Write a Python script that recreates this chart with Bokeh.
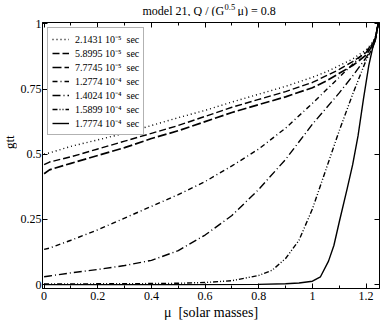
import math
from bokeh.plotting import figure
from bokeh.layouts import column, row
from bokeh.models import Range1d, FixedTicker, LinearAxis, CustomJSTickFormatter, Label
from bokeh.embed import file_html
from bokeh.resources import INLINE

# ---- data ----
mu_a = [0.0, 0.02, 0.1, 0.2, 0.3, 0.4, 0.5, 0.6, 0.7, 0.8, 0.9, 1.0, 1.05, 1.1, 1.15, 1.2, 1.225, 1.235, 1.245]
gtt_1 = [0.50, 0.505, 0.53, 0.555, 0.58, 0.61, 0.64, 0.668, 0.70, 0.73, 0.76, 0.795, 0.815, 0.84, 0.865, 0.90, 0.93, 0.95, 1.0]
gtt_2 = [0.46, 0.47, 0.49, 0.52, 0.55, 0.58, 0.61, 0.645, 0.68, 0.71, 0.74, 0.775, 0.80, 0.825, 0.855, 0.89, 0.925, 0.95, 1.0]
gtt_3 = [0.425, 0.44, 0.465, 0.495, 0.525, 0.56, 0.59, 0.625, 0.66, 0.69, 0.72, 0.755, 0.78, 0.81, 0.84, 0.88, 0.92, 0.945, 1.0]
gtt_4 = [0.135, 0.14, 0.17, 0.21, 0.255, 0.30, 0.345, 0.395, 0.455, 0.52, 0.60, 0.695, 0.745, 0.795, 0.845, 0.895, 0.925, 0.945, 1.0]
gtt_5 = [0.03, 0.033, 0.045, 0.058, 0.073, 0.093, 0.13, 0.19, 0.265, 0.365, 0.48, 0.615, 0.675, 0.735, 0.80, 0.87, 0.91, 0.94, 1.0]

mu_6 = [0.0, 0.2, 0.4, 0.5, 0.6, 0.7, 0.8, 0.85, 0.9, 0.95, 1.0, 1.05, 1.1, 1.15, 1.2, 1.225, 1.235, 1.245]
gtt_6 = [0.002, 0.003, 0.004, 0.005, 0.008, 0.015, 0.035, 0.055, 0.10, 0.17, 0.29, 0.44, 0.59, 0.73, 0.86, 0.91, 0.94, 1.0]

mu_7 = [0.0, 0.5, 0.8, 0.9, 0.95, 1.0, 1.03, 1.06, 1.08, 1.1, 1.13, 1.15, 1.17, 1.19, 1.21, 1.225, 1.235, 1.245]
gtt_7 = [0.0, 0.0, 0.001, 0.003, 0.006, 0.013, 0.03, 0.09, 0.15, 0.24, 0.37, 0.46, 0.57, 0.71, 0.84, 0.91, 0.94, 1.0]

series_labels = ["2.1431 10\u207b\u2075", "5.8995 10\u207b\u2075", "7.7745 10\u207b\u2075",
                 "1.2774 10\u207b\u2074", "1.4024 10\u207b\u2074", "1.5899 10\u207b\u2074",
                 "1.7774 10\u207b\u2074"]
unit = "sec"
x_ticks = [0, 0.2, 0.4, 0.6, 0.8, 1.0, 1.2]
x_minor = [0.1, 0.3, 0.5, 0.7, 0.9, 1.1]
y_ticks = [0, 0.25, 0.5, 0.75, 1.0]

FONT = "Liberation Serif"
STRIP_W = 17

# ---------- main plot ----------
p = figure(width=382 - STRIP_W, height=311, output_backend="svg", toolbar_location=None,
           title=None, x_range=Range1d(-0.006, 1.25), y_range=Range1d(-0.015, 1.005),
           min_border_left=20, min_border_right=3, min_border_top=6, min_border_bottom=39)
p.background_fill_color = "white"
p.border_fill_color = "white"
p.outline_line_color = "black"
p.grid.visible = False

styles = [
    dict(line_dash="1 3", line_width=1.4),
    dict(line_dash="7 3", line_width=1.4),
    dict(line_dash="9 3", line_width=1.7),
    dict(line_dash="5 3 1 3", line_width=1.4),
    dict(line_dash="8 3 1 3", line_width=1.4),
    dict(line_dash="5 2 1 2 1 2", line_width=1.4),
    dict(line_dash="solid", line_width=1.4),
]
xs = [mu_a, mu_a, mu_a, mu_a, mu_a, mu_6, mu_7]
ys = [gtt_1, gtt_2, gtt_3, gtt_4, gtt_5, gtt_6, gtt_7]
for x, y, lab, st in zip(xs, ys, series_labels, styles):
    p.line(x, y, line_color="black", legend_label=lab + "\u00a0\u00a0" + unit, **st)

fmt = CustomJSTickFormatter(code="return String(Math.round(tick*100)/100)")
empty = CustomJSTickFormatter(code="return ''")

xa = p.xaxis[0]
xa.ticker = FixedTicker(ticks=x_ticks, minor_ticks=x_minor)
xa.formatter = fmt
ya = p.yaxis[0]
ya.ticker = FixedTicker(ticks=y_ticks)
ya.formatter = fmt

top = LinearAxis(ticker=FixedTicker(ticks=x_ticks, minor_ticks=x_minor), formatter=empty)
right = LinearAxis(ticker=FixedTicker(ticks=y_ticks), formatter=empty)
p.add_layout(top, "above")
p.add_layout(right, "right")

for ax in [xa, ya, top, right]:
    ax.axis_line_color = "black"
    ax.major_tick_line_color = "black"
    ax.major_tick_in = 5
    ax.major_tick_out = 0
    ax.minor_tick_in = 3
    ax.minor_tick_out = 0
    ax.minor_tick_line_color = "black"
    ax.major_label_text_font = FONT
    ax.major_label_text_font_size = "12px"
    ax.major_label_text_color = "black"
    ax.major_label_standoff = 1
xa.major_label_standoff = 3
for ax in [ya, right]:
    ax.minor_tick_line_color = None
for ax in [top, right]:
    ax.major_label_standoff = 0
    ax.major_label_text_font_size = "1px"

xa.axis_label = "\u03bc\u00a0\u00a0[solar masses]"
xa.axis_label_text_font = FONT
xa.axis_label_text_font_size = "14px"
xa.axis_label_text_font_style = "normal"
xa.axis_label_text_color = "black"
xa.axis_label_standoff = 2

lg = p.legend[0]
lg.location = "top_left"
lg.margin = 5
lg.padding = 4
lg.spacing = 0
lg.glyph_width = 17
lg.glyph_height = 12
lg.label_height = 12
lg.label_standoff = 6
lg.label_text_font = FONT
lg.label_text_font_size = "10px"
lg.label_text_color = "black"
lg.border_line_color = "#666666"
lg.border_line_width = 1
lg.background_fill_color = "white"
lg.background_fill_alpha = 1.0

# ---------- title strip (with superscript) ----------
t = figure(width=382, height=16, output_backend="svg", toolbar_location=None, title=None,
           x_range=Range1d(0, 382), y_range=Range1d(0, 16), x_axis_type=None, y_axis_type=None,
           min_border=0)
t.outline_line_color = None
t.grid.visible = False
t.add_layout(Label(x=142, y=6, text="model 21, Q / (G", text_align="left", text_baseline="middle",
                   text_font=FONT, text_font_size="12px", text_color="black"))
t.add_layout(Label(x=224, y=10, text="0.5", text_align="left", text_baseline="middle",
                   text_font=FONT, text_font_size="8.5px", text_color="black"))
t.add_layout(Label(x=237, y=6, text="\u03bc) = 0.8", text_align="left", text_baseline="middle",
                   text_font=FONT, text_font_size="12px", text_color="black"))

# ---------- y-axis label strip ----------
g = figure(width=STRIP_W, height=311, output_backend="svg", toolbar_location=None, title=None,
           x_range=Range1d(0, STRIP_W), y_range=Range1d(0, 311), x_axis_type=None,
           y_axis_type=None, min_border=0)
g.outline_line_color = None
g.grid.visible = False
g.add_layout(Label(x=8.5, y=171, text="gtt", angle=math.pi / 2, text_align="center",
                   text_baseline="middle", text_font=FONT, text_font_size="13px",
                   text_color="black"))

layout = column(t, row(g, p, spacing=0), spacing=0)
open("out.html", "w").write(file_html(layout, INLINE))
